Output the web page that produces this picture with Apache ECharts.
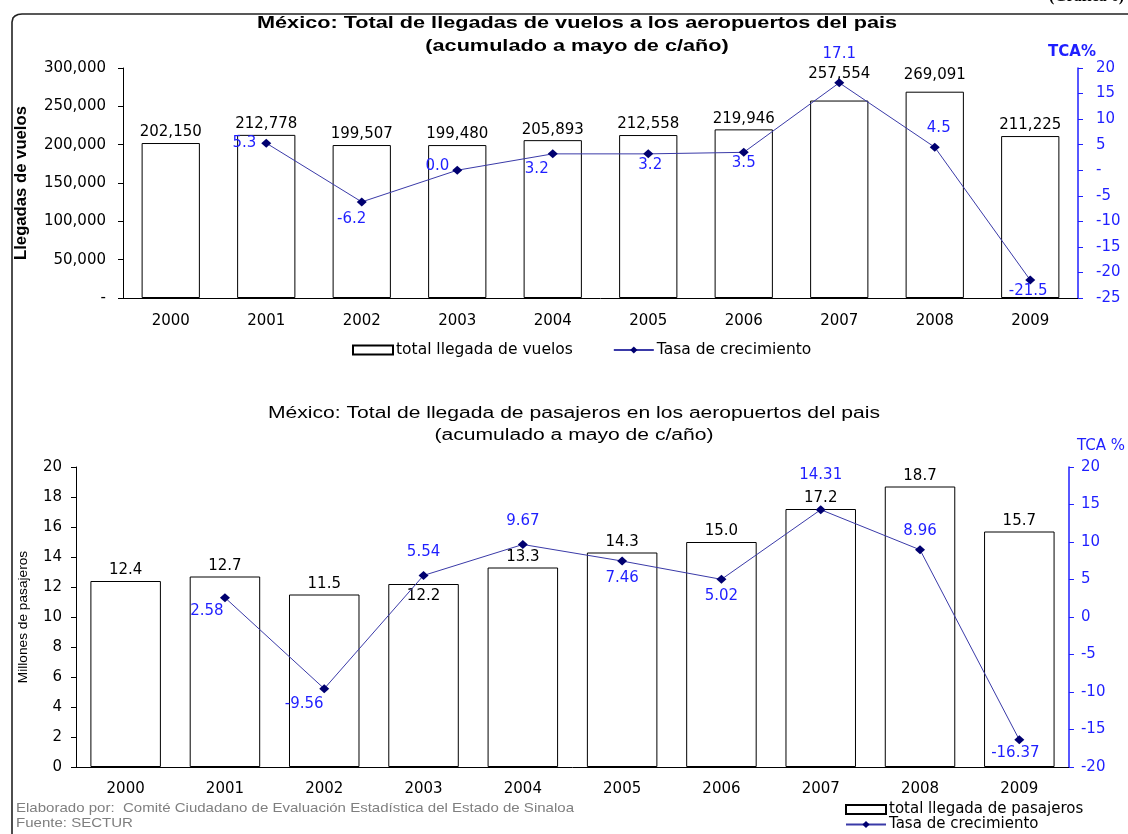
<!DOCTYPE html>
<html>
<head>
<meta charset="utf-8">
<script src="https://cdn.jsdelivr.net/npm/echarts@6/dist/echarts.min.js"></script>
<style>
html,body{margin:0;padding:0;background:#fff;}
#chart{width:1128px;height:834px;}
</style>
</head>
<body>
<div id="chart"></div>
<script>
// ---- Data ----
const years = ['2000','2001','2002','2003','2004','2005','2006','2007','2008','2009'];
const vuelos = [202150, 212778, 199507, 199480, 205893, 212558, 219946, 257554, 269091, 211225];
const tcaVuelos = [null, 5.3, -6.2, 0.0, 3.2, 3.2, 3.5, 17.1, 4.5, -21.5];
const pasajeros = [12.4, 12.7, 11.5, 12.2, 13.3, 14.3, 15.0, 17.2, 18.7, 15.7];
const tcaPasajeros = [null, 2.58, -9.56, 5.54, 9.67, 7.46, 5.02, 14.31, 8.96, -16.37];

// ---- label placement (style only) ----
const topLinePos = [null,
  {position:'left', offset:[0,0]},
  {position:'bottom', offset:[-10,0]},
  {position:'left', offset:[2,-4]},
  {position:'bottom', offset:[-16,-2]},
  {position:'bottom', offset:[2,-6]},
  {position:'bottom', offset:[0,-6]},
  {position:'top', offset:[0,-12]},
  {position:'top', offset:[4,-2]},
  {position:'bottom', offset:[-2,-6]}];
const topBarOffset = [0,0,0,0,0,0,0,-16,-6,0];
const botLinePos = [null,
  {position:'bottom', offset:[-18,-4]},
  {position:'bottom', offset:[-20,-2]},
  {position:'top', offset:[0,-6]},
  {position:'top', offset:[0,-6]},
  {position:'bottom', offset:[0,0]},
  {position:'bottom', offset:[0,0]},
  {position:'top', offset:[0,-18]},
  {position:'top', offset:[0,-2]},
  {position:'bottom', offset:[-4,-4]}];
const botBarInside = [false,false,false,true,false,false,false,false,false,false];

const BLUE = '#1f1fff';
const NAVY = '#000070';
const LINE = '#3a3aa8';
const F = 'DejaVu Sans, Verdana, sans-serif';
const FA = 'Liberation Sans, Arial, sans-serif';

const fmtThousands = v => v === 0 ? '-' : v.toLocaleString('en-US');
const fmtTca = v => v === 0 ? '-' : String(v);

// horizontal stretch factor so a text line spans a target width
const mctx = document.createElement('canvas').getContext('2d');
function fitScale(text, font, target) {
  mctx.font = font;
  return target / mctx.measureText(text).width;
}
const t1a = 'México: Total de llegadas de vuelos a los aeropuertos del pais';
const t1b = '(acumulado a mayo de c/año)';
const t2a = 'México: Total de llegada de pasajeros en los aeropuertos del pais';
const t2b = '(acumulado a mayo de c/año)';
const foot1 = 'Elaborado por:  Comité Ciudadano de Evaluación Estadística del Estado de Sinaloa';
const foot2 = 'Fuente: SECTUR';
const fT1 = 'bold 17px ' + FA;
const fT2 = '16px ' + FA;
const fFt = '13px ' + FA;
const s1 = fitScale(t1a, fT1, 640);
const s2 = fitScale(t2a, fT2, 612);
const s3 = fitScale(foot1, fFt, 558);

const chart = echarts.init(document.getElementById('chart'));
chart.setOption({
  animation: false,
  backgroundColor: '#fff',
  textStyle: {fontFamily: F},
  graphic: [
    {type:'polyline', shape:{points:[[12,834],[12,22],[13,18],[15,16],[18,14.5],[22,14],[1128,14]]}, style:{stroke:'#222', lineWidth:1.6, fill:null}},
    {type:'text', x:1124, y:-11, style:{text:'(Gráfica 6)', font:'bold 16px Liberation Serif, serif', fill:'#000', align:'right'}},
    {type:'text', x:577, y:12, scaleX:s1, style:{text:t1a + '\n' + t1b, font:fT1, fill:'#000', align:'center', lineHeight:23}},
    {type:'text', x:574, y:403, scaleX:s2, style:{text:t2a + '\n' + t2b, font:fT2, fill:'#000', align:'center', lineHeight:22}},
    {type:'text', x:16, y:801, scaleX:s3, style:{text:foot1 + '\n' + foot2, font:fFt, fill:'#7f7f7f', lineHeight:15}}
  ],
  legend: [
    {left:352, top:342, padding:0, itemWidth:40, itemHeight:9, itemGap:40,
     textStyle:{fontSize:15.5, color:'#000', fontFamily:F, padding:[0,0,0,-2]},
     data:[{name:'total llegada de vuelos', icon:'rect'}, {name:'Tasa de crecimiento'}]},
    {left:845, top:802, padding:0, orient:'vertical', itemWidth:40, itemHeight:9, itemGap:0,
     textStyle:{fontSize:15, color:'#000', fontFamily:F, lineHeight:15, padding:[0,0,0,-2]},
     data:[{name:'total llegada de pasajeros', icon:'rect'}, {name:'Tasa de crecimiento '}]}
  ],
  grid: [
    {left:123, right:50, top:68, height:230},
    {left:76, right:58, top:467, height:300}
  ],
  xAxis: [
    {type:'category', gridIndex:0, data:years, boundaryGap:true,
     axisLine:{lineStyle:{color:'#000'}}, axisTick:{length:5, lineStyle:{color:'#000'}},
     axisLabel:{color:'#000', fontSize:15, margin:16}},
    {type:'category', gridIndex:1, data:years, boundaryGap:true,
     axisLine:{lineStyle:{color:'#000'}}, axisTick:{length:5, lineStyle:{color:'#000'}},
     axisLabel:{color:'#000', fontSize:15, margin:15}}
  ],
  yAxis: [
    {type:'value', gridIndex:0, min:0, max:300000, interval:50000, position:'left',
     name:'Llegadas de vuelos', nameLocation:'middle', nameRotate:90, nameGap:93,
     nameTextStyle:{fontSize:16.7, fontWeight:'bold', color:'#000', fontFamily:FA},
     axisLine:{show:true, lineStyle:{color:'#000'}}, axisTick:{show:true, length:5, lineStyle:{color:'#000'}},
     splitLine:{show:false}, axisLabel:{color:'#000', fontSize:15, margin:17, formatter:fmtThousands}},
    {type:'value', gridIndex:0, min:-25, max:20, interval:5, position:'right',
     name:'TCA%', nameLocation:'end', nameGap:8,
     nameTextStyle:{fontSize:15, fontWeight:'bold', color:BLUE, align:'center', padding:[0,12,0,0]},
     axisLine:{show:true, lineStyle:{color:BLUE, width:1.5}}, axisTick:{show:true, length:5, lineStyle:{color:BLUE}},
     splitLine:{show:false}, axisLabel:{color:BLUE, fontSize:15, margin:18, formatter:fmtTca}},
    {type:'value', gridIndex:1, min:0, max:20, interval:2, position:'left',
     name:'Millones de pasajeros', nameLocation:'middle', nameRotate:90, nameGap:46,
     nameTextStyle:{fontSize:13.7, color:'#000', fontFamily:FA},
     axisLine:{show:true, lineStyle:{color:'#000'}}, axisTick:{show:true, length:5, lineStyle:{color:'#000'}},
     splitLine:{show:false}, axisLabel:{color:'#000', fontSize:15, margin:14}},
    {type:'value', gridIndex:1, min:-20, max:20, interval:5, position:'right',
     name:'TCA %', nameLocation:'end', nameGap:13,
     nameTextStyle:{fontSize:15, color:BLUE, align:'left', padding:[0,0,0,8]},
     axisLine:{show:true, lineStyle:{color:BLUE, width:1.5}}, axisTick:{show:true, length:5, lineStyle:{color:BLUE}},
     splitLine:{show:false}, axisLabel:{color:BLUE, fontSize:15, margin:12}}
  ],
  series: [
    {name:'total llegada de vuelos', type:'bar', xAxisIndex:0, yAxisIndex:0, barWidth:'61%',
     itemStyle:{color:'#fff', borderColor:'#000', borderWidth:1},
     label:{show:true, position:'top', distance:3, color:'#000', fontSize:15, formatter:p => p.value.toLocaleString('en-US')},
     data: vuelos.map((v,i) => ({value:v, label:{offset:[0, topBarOffset[i]]}}))},
    {name:'Tasa de crecimiento', type:'line', xAxisIndex:0, yAxisIndex:1,
     symbol:'diamond', symbolSize:[10,9], itemStyle:{color:NAVY}, lineStyle:{color:LINE, width:1},
     label:{show:true, color:BLUE, fontSize:15, formatter:p => p.value.toFixed(1)},
     data: tcaVuelos.map((v,i) => v === null ? null : ({value:v, label:topLinePos[i]}))},
    {name:'total llegada de pasajeros', type:'bar', xAxisIndex:1, yAxisIndex:2, barWidth:'71%',
     itemStyle:{color:'#fff', borderColor:'#000', borderWidth:1},
     label:{show:true, position:'top', distance:3, color:'#000', fontSize:15, formatter:p => p.value.toFixed(1)},
     data: pasajeros.map((v,i) => ({value:v, label: botBarInside[i] ? {position:'insideTop', distance:5} : {}}))},
    {name:'Tasa de crecimiento ', type:'line', xAxisIndex:1, yAxisIndex:3,
     symbol:'diamond', symbolSize:[10,9], itemStyle:{color:NAVY}, lineStyle:{color:LINE, width:1},
     label:{show:true, color:BLUE, fontSize:15, formatter:p => p.value.toFixed(2)},
     data: tcaPasajeros.map((v,i) => v === null ? null : ({value:v, label:botLinePos[i]}))}
  ]
});
</script>
</body>
</html>
